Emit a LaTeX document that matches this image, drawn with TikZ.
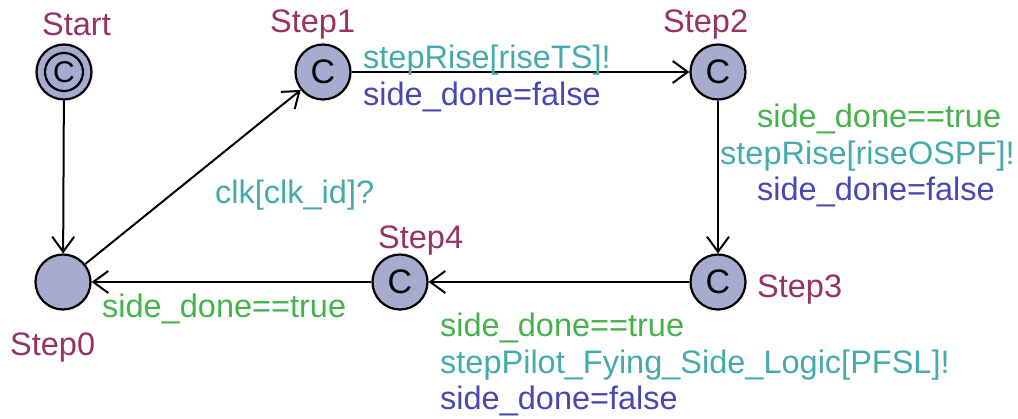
\documentclass[tikz,border=0pt]{standalone}
\usepackage{fontspec}
\setmainfont{Liberation Sans}
\usetikzlibrary{arrows.meta}
\definecolor{locname}{RGB}{150,50,100}
\definecolor{guardc}{RGB}{70,178,75}
\definecolor{syncc}{RGB}{70,170,172}
\definecolor{assignc}{RGB}{72,72,180}
\definecolor{locfill}{RGB}{165,172,208}
\tikzset{
  loc/.style={circle, draw=black, line width=2.2pt, fill=locfill, minimum size=55pt, inner sep=0pt, font=\fontsize{34}{34}\selectfont},
  lname/.style={anchor=base west, text=locname, inner sep=0pt, font=\fontsize{32.5}{32.5}\selectfont},
  lab/.style={anchor=base west, inner sep=0pt, font=\fontsize{32.5}{32.5}\selectfont},
  guard/.style={lab, text=guardc},
  sync/.style={lab, text=syncc},
  assign/.style={lab, text=assignc},
  edge/.style={draw=black, line width=2pt, -{Straight Barb[length=15pt, width=22pt, line width=2pt]}}
}
\begin{document}
\begin{tikzpicture}[x=1pt,y=-1pt]
\useasboundingbox (0,0) rectangle (1018,419);
% locations
\node[loc] (Start) at (64,72) {};
\draw[line width=2.2pt] (Start.center) circle (19);
\node[font=\fontsize{30}{30}\selectfont, inner sep=0pt] (StartC) at (Start.center) {C};
\node[loc] (Step1) at (323,72) {C};
\node[loc] (Step2) at (718,72) {C};
\node[loc] (Step3) at (718,282) {C};
\node[loc] (Step4) at (400,282) {C};
\node[loc] (Step0) at (63,282) {};
% names
\node[lname] (nStart) at (42,36) {Start};
\node[lname] (nStep1) at (270,33) {Step1};
\node[lname] (nStep2) at (663,33) {Step2};
\node[lname] (nStep3) at (757,298) {Step3};
\node[lname] (nStep4) at (378,249) {Step4};
\node[lname] (nStep0) at (10,356) {Step0};
% edges
\draw[edge] (Start) -- (Step0);
\draw[edge] (Step0) -- (Step1);
\draw[edge] (Step1) -- (Step2);
\draw[edge] (Step2) -- (Step3);
\draw[edge] (Step3) -- (Step4);
\draw[edge] (Step4) -- (Step0);
% labels
\node[sync] (l1) at (363,69) {stepRise[riseTS]!};
\node[assign] (l2) at (363,106) {side\_done=false};
\node[guard] (l3) at (757,128) {side\_done==true};
\node[sync] (l4) at (720,165) {stepRise[riseOSPF]!};
\node[assign] (l5) at (757,201) {side\_done=false};
\node[sync] (l6) at (215,204) {clk[clk\_id]?};
\node[guard] (l7) at (102,318) {side\_done==true};
\node[guard] (l8) at (440,337) {side\_done==true};
\node[sync] (l9) at (440,374) {stepPilot\_Fying\_Side\_Logic[PFSL]!};
\node[assign] (l10) at (440,410) {side\_done=false};
\end{tikzpicture}
\end{document}
